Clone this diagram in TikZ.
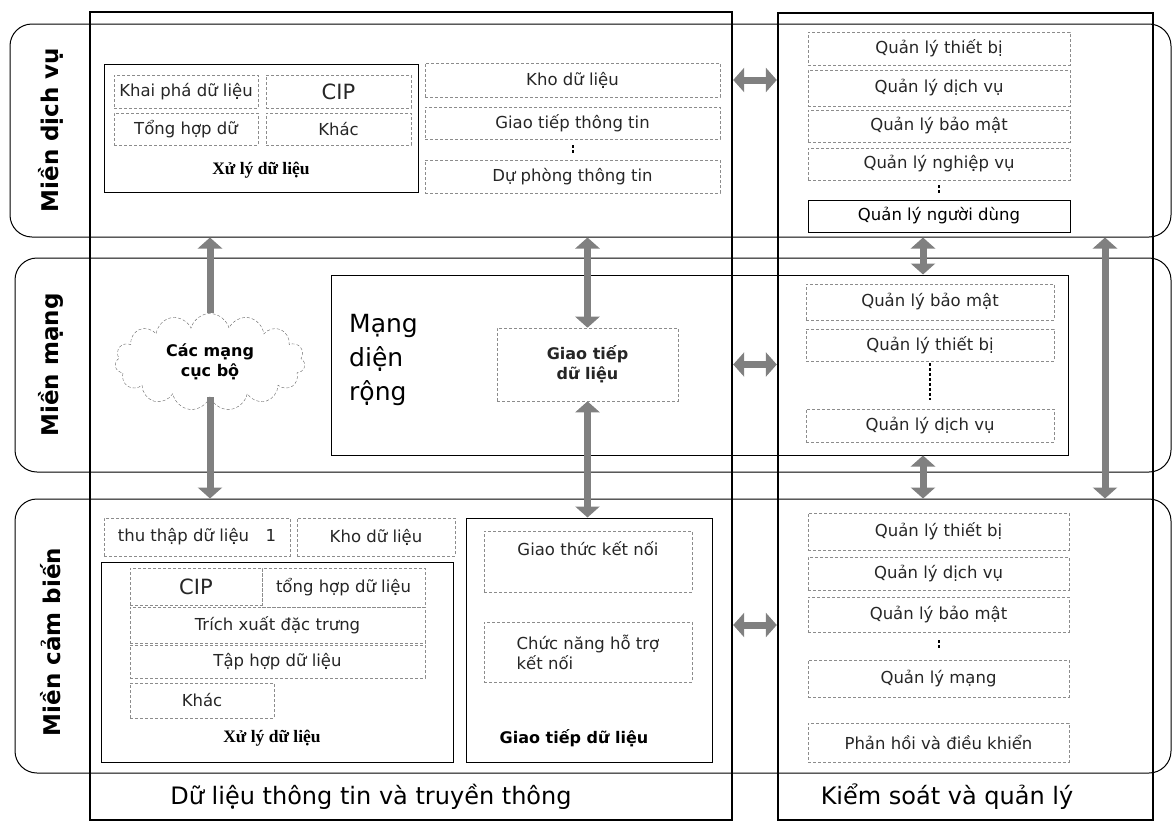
\documentclass[tikz,border=0pt]{standalone}
\usepackage{fontspec}
\setmainfont{DejaVu Sans}
\newfontfamily\serifbf{Liberation Serif}
\usetikzlibrary{arrows.meta,shapes.symbols}
\newcommand{\txt}{\fontsize{16.5}{20}\selectfont}
\newcommand{\cell}[7]{
	\node[#1, minimum width={(#5-#3)*1pt}, minimum height={(#6-#4)*1pt}] (#2) at ({(#3+#5)/2},{(#4+#6)/2}) {#7};
	}
\begin{document}
\begin{tikzpicture}[
      x=1pt, y=-1pt, %one pixel of the layout
      col/.style={draw, line width=2.4pt},
      band/.style={draw, line width=1pt, rounded corners=22pt},
      sbox/.style={draw, line width=1pt},
      dbox/.style={draw=black!45, densely dashed, line width=0.6pt, inner sep=1pt, font=\txt, text=black!85},
      fat/.style={line width=7pt, draw=black!50, >={Triangle[width=24pt,length=11pt]}},
      ellip/.style={line width=2pt, dash pattern=on 2.5pt off 2.5pt},
      xlabel/.style={font=\serifbf\bfseries\fontsize{17.5}{20}\selectfont},
      title/.style={font=\fontsize{24}{28}\selectfont},
      side/.style={rotate=90, font=\bfseries\fontsize{23}{27}\selectfont}
    ]
    \useasboundingbox (0,0) rectangle (1173,822);
    % Draw the domains
    \cell{band}{svc}{10}{24}{1171}{237}{}
    \cell{band}{net}{15}{258}{1171}{472}{}
    \cell{band}{sen}{15}{499}{1171}{773}{}
    \node[side] (lsvc) at (51,130) {Miền dịch vụ};
    \node[side] (lnet) at (51,365) {Miền mạng};
    \node[side] (lsen) at (51,642) {Miền cảm biến};
    % wide area network
    \cell{sbox}{wan}{331}{275}{1068}{455}{}
    % Draw the two columns
    \cell{col}{dl}{90}{12}{732}{820}{}
    \cell{col}{ks}{778}{13}{1153}{820}{}
    \node[title] (tdl) at (371,797) {Dữ liệu thông tin và truyền thông};
    \node[title] (tks) at (947,797) {Kiểm soát và quản lý};
    % Service domain
    \cell{sbox}{xl1}{104}{64}{418}{192}{}
    \cell{dbox}{kp}{114}{75}{258}{108}{Khai phá dữ liệu}
    \cell{dbox,font=\fontsize{21}{24}\selectfont}{cip1}{266}{75}{411}{108}{CIP}
    \cell{dbox}{th1}{114}{113}{258}{145}{Tổng hợp dữ}
    \cell{dbox}{kh1}{266}{113}{411}{145}{Khác}
    \node[xlabel] (xlt1) at (261,170) {Xử lý dữ liệu};
    \cell{dbox}{kho1}{425}{63}{720}{97}{Kho dữ liệu}
    \cell{dbox}{gtt}{425}{107}{720}{139}{Giao tiếp thông tin}
    \cell{dbox}{dpt}{425}{160}{720}{193}{Dự phòng thông tin}
    \draw[ellip, shorten <=6pt, shorten >=6pt] (gtt.south) -- (dpt.north);
    \cell{dbox}{qtb1}{808}{32}{1070}{65}{Quản lý thiết bị}
    \cell{dbox}{qdv1}{808}{70}{1070}{106}{Quản lý dịch vụ}
    \cell{dbox}{qbm1}{808}{110}{1070}{142}{Quản lý bảo mật}
    \cell{dbox}{qnv}{808}{148}{1070}{180}{Quản lý nghiệp vụ}
    \cell{sbox,font=\txt}{qnd}{808}{200}{1070}{232}{Quản lý người dùng}
    \draw[ellip, shorten <=5pt, shorten >=5pt] (qnv.south) -- (qnd.north);
    % Network domain
    \node[cloud, cloud puffs=15, aspect=2, draw=black!60, densely dashed, minimum width=190pt, minimum height=97pt,
          align=center, font=\bfseries\fontsize{16}{20}\selectfont] (lan) at (210,362) {Các mạng\\cục bộ};
    \node[anchor=west, align=left, inner sep=0pt, font=\fontsize{25}{34}\selectfont] (want) at (349,360) {Mạng\\diện\\rộng};
    \cell{dbox,align=center,font=\bfseries\fontsize{16}{20}\selectfont}{gtd}{497}{328}{678}{401}{Giao tiếp\\dữ liệu}
    \cell{dbox}{qbm2}{806}{284}{1054}{320}{Quản lý bảo mật}
    \cell{dbox}{qtb2}{806}{329}{1054}{361}{Quản lý thiết bị}
    \cell{dbox}{qdv2}{806}{409}{1054}{442}{Quản lý dịch vụ}
    \draw[ellip, shorten <=2pt, shorten >=9pt] (qtb2.south) -- (qdv2.north);
    % Sensor domain
    \cell{dbox}{ttd}{104}{518}{290}{556}{thu thập dữ liệu\quad 1}
    \cell{dbox}{kho2}{297}{518}{455}{556}{Kho dữ liệu}
    \cell{sbox}{xl2}{101}{562}{453}{762}{}
    \cell{dbox,font=\fontsize{21}{24}\selectfont}{cip2}{130}{568}{262}{605}{CIP}
    \cell{dbox}{thd}{262}{568}{425}{607}{tổng hợp dữ liệu}
    \cell{dbox}{txd}{130}{607}{425}{643}{Trích xuất đặc trưng}
    \cell{dbox}{thl}{130}{645}{425}{678}{Tập hợp dữ liệu}
    \cell{dbox}{kh2}{130}{683}{274}{718}{Khác}
    \node[xlabel] (xlt2) at (272,738) {Xử lý dữ liệu};
    \cell{sbox}{gts}{466}{518}{712}{762}{}
    \cell{dbox,align=center}{gtk}{484}{531}{692}{592}{Giao thức kết nối\\ \strut}
    \cell{dbox,align=left}{cnh}{484}{622}{692}{682}{Chức năng hỗ trợ\\kết nối}
    \node[font=\bfseries\fontsize{16}{19}\selectfont] (gtl) at (574,738) {Giao tiếp dữ liệu};
    \cell{dbox}{qtb3}{808}{513}{1069}{550}{Quản lý thiết bị}
    \cell{dbox}{qdv3}{808}{557}{1069}{590}{Quản lý dịch vụ}
    \cell{dbox}{qbm3}{808}{597}{1069}{632}{Quản lý bảo mật}
    \cell{dbox}{qmg}{808}{660}{1069}{697}{Quản lý mạng}
    \cell{dbox}{phd}{808}{723}{1069}{762}{Phản hồi và điều khiển}
    \draw[ellip, shorten <=8pt, shorten >=12pt] (qbm3.south) -- (qmg.north);
    % Arrows between the domains and columns
    \coordinate (mx) at (923,250);
    \coordinate (fx) at (1105,250);
    \draw[fat,->] (lan.north) -- (lan.north |- svc.south);
    \draw[fat,->] (lan.south) -- (lan.south |- sen.north);
    \draw[fat,<->] (gtd.north) -- (gtd.north |- svc.south);
    \draw[fat,<->] (gtd.south) -- (gtd.south |- gts.north);
    \draw[fat,<->] (mx |- svc.south) -- (mx |- wan.north);
    \draw[fat,<->] (mx |- wan.south) -- (mx |- sen.north);
    \draw[fat,<->] (fx |- svc.south) -- (fx |- sen.north);
    \draw[fat,<->] (dl.east |- kho1) -- (ks.west |- kho1);
    \draw[fat,<->] (dl.east |- gtd) -- (ks.west |- gtd);
    \draw[fat,<->] (dl.east |- txd) -- (ks.west |- txd);
\end{tikzpicture}
\end{document}
